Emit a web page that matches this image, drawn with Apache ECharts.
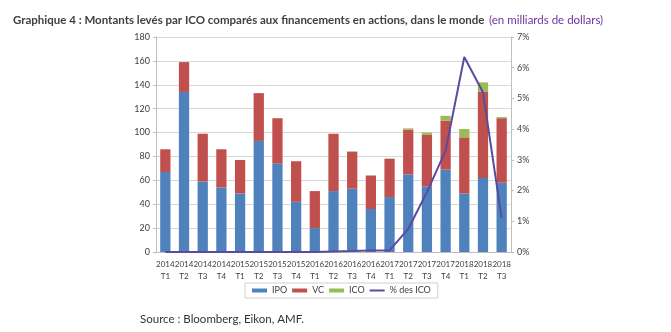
<!DOCTYPE html>
<html><head><meta charset="utf-8">
<script src="https://cdn.jsdelivr.net/npm/echarts@6/dist/echarts.min.js"></script>
<style>html,body{margin:0;padding:0;background:#fff}#c{width:671px;height:332px}</style>
</head><body><div id="c"></div>
<script>
const years = ['2014','2014','2014','2014','2015','2015','2015','2015','2016','2016','2016','2016','2017','2017','2017','2017','2018','2018','2018'];
const quarters = ['T1','T2','T3','T4','T1','T2','T3','T4','T1','T2','T3','T4','T1','T2','T3','T4','T1','T2','T3'];
const ipo = [67,134,59,54,49,93,74,42,20,51,53,36,46,65,55,69,49,62,58];
const vc  = [19,25,40,32,28,40,38,34,31,48,31,28,32,37.5,43,41,47,72,54];
const ico = [0,0,0,0,0,0,0,0,0,0,0.3,0.3,0.3,1,2,4,7,8,1];
const pctIco = [0,0,0,0,0,0,0,0,0,0.02,0.03,0.05,0.05,0.75,1.95,3.3,6.35,5.2,1.1];
const leftTicks = {min:0,max:180,interval:20};
const rightTicks = {min:0,max:7,interval:1};

const categories = years.map((y,i)=>y+'\n'+quarters[i]);
const chart = echarts.init(document.getElementById('c'));
const axisColor = '#bfbfbf';
const labelColor = '#404040';
const FF = 'Lato, sans-serif';
chart.setOption({
  animation:false,
  textStyle:{fontFamily:FF},
  title:{
    left:8, top:6,
    text:'{a|Graphique 4 : Montants levés par ICO comparés aux financements en actions, dans le monde} {b|(en milliards de dollars)}',
    textStyle:{fontWeight:'normal',rich:{
      a:{fontFamily:FF,fontWeight:'bold',fontSize:11.5,color:'#404040'},
      b:{fontFamily:FF,fontWeight:'normal',fontSize:11.5,color:'#7030a0'}
    }}
  },
  graphic:[{type:'text',left:140,top:313,style:{text:'Source : Bloomberg, Eikon, AMF.',fontFamily:FF,fontSize:11.5,fill:'#333'}}],
  legend:{
    left:245, top:283, padding:[3,7], itemGap:5,
    borderColor:'#d0d0d0', borderWidth:1,
    itemWidth:15, itemHeight:4,
    textStyle:{fontSize:9,color:'#404040',fontFamily:FF},
    data:[{name:'IPO',icon:'rect'},{name:'VC',icon:'rect'},{name:'ICO',icon:'rect'},
          {name:'% des ICO',icon:'path://M0,0L30,0L30,4L0,4Z',itemStyle:{color:'#5b4a9e'}}]
  },
  grid:{left:156,right:160,top:37,bottom:80},
  xAxis:{type:'category',data:categories,
    axisLine:{lineStyle:{color:axisColor}},axisTick:{show:false},
    axisLabel:{color:labelColor,fontSize:8,interval:0,lineHeight:12,margin:6,fontFamily:FF}},
  yAxis:[
    {type:'value',...leftTicks,axisLine:{show:true,lineStyle:{color:axisColor}},
     axisTick:{show:true,length:3,lineStyle:{color:axisColor}},
     splitLine:{lineStyle:{color:'#d9d9d9'}},
     axisLabel:{color:labelColor,fontSize:9,margin:6,fontFamily:FF}},
    {type:'value',...rightTicks,position:'right',axisLine:{show:true,lineStyle:{color:axisColor}},
     axisTick:{show:true,length:3,lineStyle:{color:axisColor}},
     splitLine:{show:false},
     axisLabel:{color:labelColor,fontSize:9,margin:6,fontFamily:FF,formatter:v=>v+'%'}}
  ],
  series:[
    {name:'IPO',type:'bar',stack:'t',data:ipo,barWidth:'55%',itemStyle:{color:'#4f81bd'}},
    {name:'VC',type:'bar',stack:'t',data:vc,itemStyle:{color:'#c0504d'}},
    {name:'ICO',type:'bar',stack:'t',data:ico,itemStyle:{color:'#9bbb59'}},
    {name:'% des ICO',type:'line',yAxisIndex:1,data:pctIco,symbol:'none',
     lineStyle:{color:'#5b4a9e',width:2},itemStyle:{color:'#5b4a9e'}}
  ]
});
</script></body></html>
